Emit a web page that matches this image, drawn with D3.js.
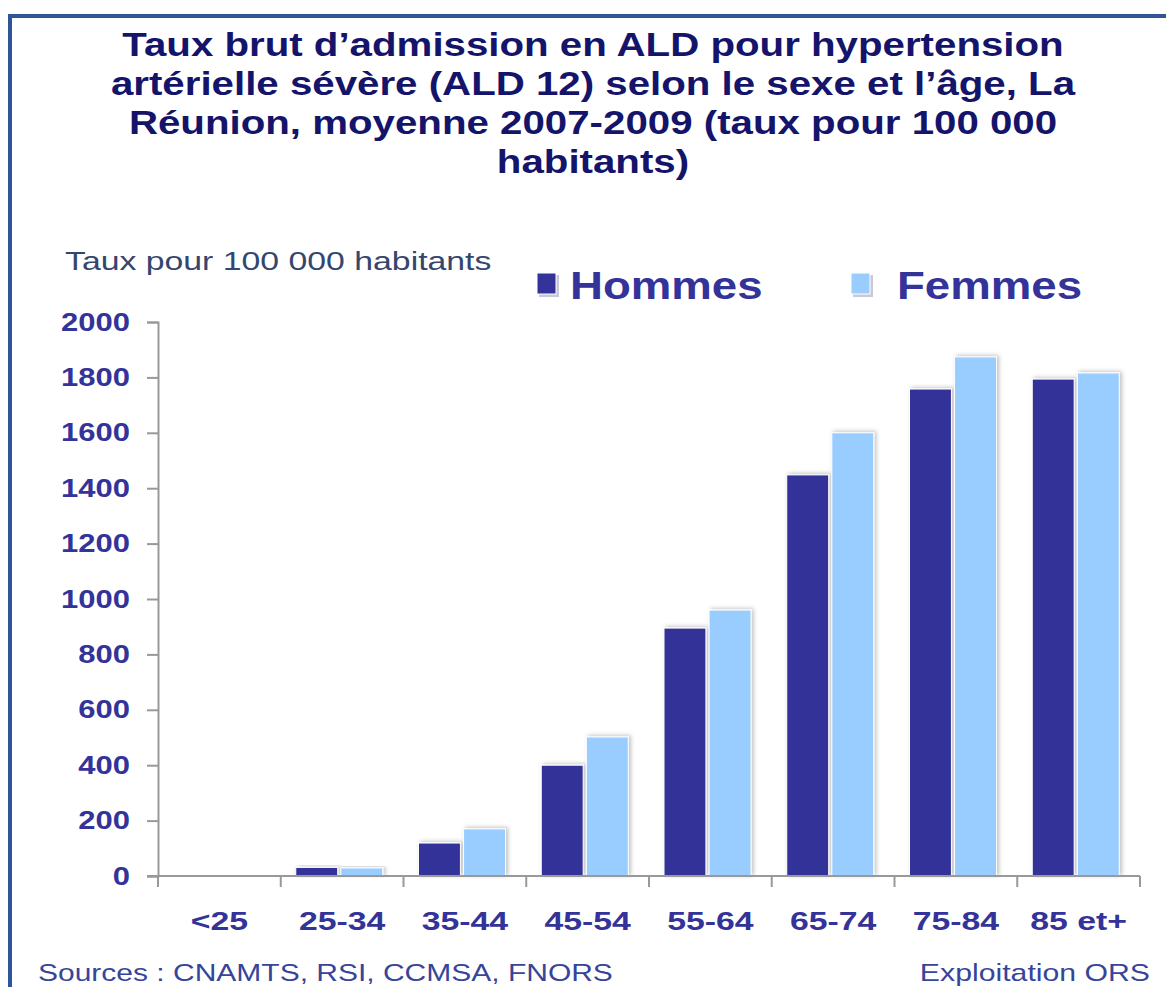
<!DOCTYPE html>
<html>
<head>
<meta charset="utf-8">
<script src="https://cdn.jsdelivr.net/npm/d3@7"></script>
<style>
  body { margin: 0; background: #fff; }
  svg { display: block; font-family: "Liberation Sans", Arial, sans-serif; }
</style>
</head>
<body>
<div class="container"></div>
<script>
// data
const ageGroups = ["<25", "25-34", "35-44", "45-54", "55-64", "65-74", "75-84", "85 et+"]
const hommes = [2, 31, 119, 400, 895, 1448, 1758, 1794]
const femmes = [2, 29, 170, 502, 960, 1600, 1874, 1816]
const seriesNames = ["Hommes", "Femmes"]
const yTicks = [0, 200, 400, 600, 800, 1000, 1200, 1400, 1600, 1800, 2000]
const titleLines = [
  "Taux brut d\u2019admission en ALD pour hypertension",
  "art\u00e9rielle s\u00e9v\u00e8re (ALD 12) selon le sexe et l\u2019\u00e2ge, La",
  "R\u00e9union, moyenne 2007-2009 (taux pour 100 000",
  "habitants)"
]

const colors = ["#333399", "#99ccff"]
const navy = "#333399"

const w = 1166
const h = 987

// the original picture is stretched sideways, so text gets a horizontal scale
const stretch = (sx) => "scale(" + sx + ",1)"

const svg = d3.select(".container")
              .append("svg")
              .attr("width", w)
              .attr("height", h)

const defs = svg.append("defs")
defs.append("filter")
    .attr("id", "shadow")
    .attr("x", "-20%").attr("y", "-20%")
    .attr("width", "140%").attr("height", "140%")
    .append("feDropShadow")
    .attr("dx", 2).attr("dy", -1)
    .attr("stdDeviation", 2)
    .attr("flood-color", "#000")
    .attr("flood-opacity", 0.25)

// frame
svg.append("path")
   .attr("d", "M10," + h + " V16 H" + w)
   .attr("fill", "none")
   .attr("stroke", "#2e5597")
   .attr("stroke-width", 4)

// title
svg.append("g")
   .attr("transform", "translate(593,0)")
   .append("text")
   .attr("transform", stretch(1.22))
   .attr("text-anchor", "middle")
   .attr("font-weight", "bold")
   .attr("font-size", 33)
   .attr("fill", "#14146b")
   .selectAll("tspan")
   .data(titleLines)
   .enter()
   .append("tspan")
   .attr("x", 0)
   .attr("y", (d, i) => 56 + i * 39)
   .text(d => d)

// scales
const xScale = d3.scaleBand()
                 .domain(ageGroups)
                 .range([158, 1140])

const xInner = d3.scaleBand()
                 .domain(seriesNames)
                 .range([15, 102])
                 .paddingInner(0.07)

const yScale = d3.scaleLinear()
                 .domain([0, 2000])
                 .range([876, 322])

// bars
const rows = ageGroups.map((g, i) => ({ group: g, values: [hommes[i], femmes[i]] }))

const groups = svg.selectAll(".grp")
   .data(rows)
   .enter()
   .append("g")
   .attr("class", "grp")
   .attr("transform", d => "translate(" + xScale(d.group) + ",0)")

groups.selectAll("rect")
   .data(d => d.values.map((v, k) => ({ name: seriesNames[k], value: v, k: k })))
   .enter()
   .append("rect")
   .attr("x", d => xInner(d.name))
   .attr("width", xInner.bandwidth())
   .attr("y", d => yScale(d.value))
   .attr("height", d => yScale(0) - yScale(d.value))
   .attr("fill", d => colors[d.k])
   .attr("stroke", "#fff")
   .attr("stroke-width", 1)
   .attr("filter", "url(#shadow)")

// axes
const yAxis = d3.axisLeft(yScale)
                .tickValues(yTicks)
                .tickSize(11)
                .tickFormat(d3.format("d"))
const gy = svg.append("g")
              .attr("transform", "translate(158,0)")
              .call(yAxis)
gy.select(".domain").attr("stroke", "#999").attr("stroke-width", 2)
gy.selectAll(".tick line").attr("stroke", "#999").attr("stroke-width", 2)
gy.selectAll(".tick text")
  .attr("x", -28 / 1.24)
  .attr("transform", stretch(1.24))
  .attr("font-family", "Liberation Sans, Arial, sans-serif")
  .attr("font-size", 25)
  .attr("font-weight", "bold")
  .attr("fill", navy)

const xAxis = d3.axisBottom(xScale)
                .tickSize(0)
                .tickPadding(36)
const gx = svg.append("g")
              .attr("transform", "translate(0,876)")
              .call(xAxis)
gx.select(".domain").attr("d", "M147,0H1140").attr("stroke", "#999").attr("stroke-width", 2)
gx.selectAll(".tick text")
  .attr("transform", stretch(1.3))
  .attr("font-family", "Liberation Sans, Arial, sans-serif")
  .attr("font-size", 26)
  .attr("font-weight", "bold")
  .attr("fill", navy)

// category separators
const edges = ageGroups.map(g => xScale(g)).concat([xScale.range()[1]])
gx.selectAll(".sep")
  .data(edges)
  .enter()
  .append("line")
  .attr("x1", d => d).attr("x2", d => d)
  .attr("y1", 0).attr("y2", 11)
  .attr("stroke", "#999")
  .attr("stroke-width", 2)

// axis title
svg.append("g")
   .attr("transform", "translate(65,270)")
   .append("text")
   .attr("transform", stretch(1.3))
   .attr("font-size", 26)
   .attr("fill", "#34466e")
   .text("Taux pour 100 000 habitants")

// legend
const legendX = [537, 851]
const legendTextX = [570, 897]
const lg = svg.selectAll(".legend")
   .data(seriesNames)
   .enter()
   .append("g")
   .attr("class", "legend")
lg.append("rect")
  .attr("x", (d, i) => legendX[i] + 2)
  .attr("y", 275)
  .attr("width", 20)
  .attr("height", 22)
  .attr("fill", "#c8c8d8")
lg.append("rect")
  .attr("x", (d, i) => legendX[i])
  .attr("y", 273)
  .attr("width", 19)
  .attr("height", 21)
  .attr("fill", (d, i) => colors[i])
  .attr("stroke", "#fff")
  .attr("stroke-width", 1)
lg.append("g")
  .attr("transform", (d, i) => "translate(" + legendTextX[i] + ",299)")
  .append("text")
  .attr("transform", stretch(1.2))
  .attr("font-size", 38)
  .attr("font-weight", "bold")
  .attr("fill", navy)
  .text(d => d)

// footer
svg.append("g")
   .attr("transform", "translate(38,981)")
   .append("text")
   .attr("transform", stretch(1.25))
   .attr("font-size", 24)
   .attr("fill", "#36459a")
   .text("Sources : CNAMTS, RSI, CCMSA, FNORS")
svg.append("g")
   .attr("transform", "translate(1150,981)")
   .append("text")
   .attr("transform", stretch(1.26))
   .attr("text-anchor", "end")
   .attr("font-size", 24)
   .attr("fill", "#36459a")
   .text("Exploitation ORS")
</script>
</body>
</html>
